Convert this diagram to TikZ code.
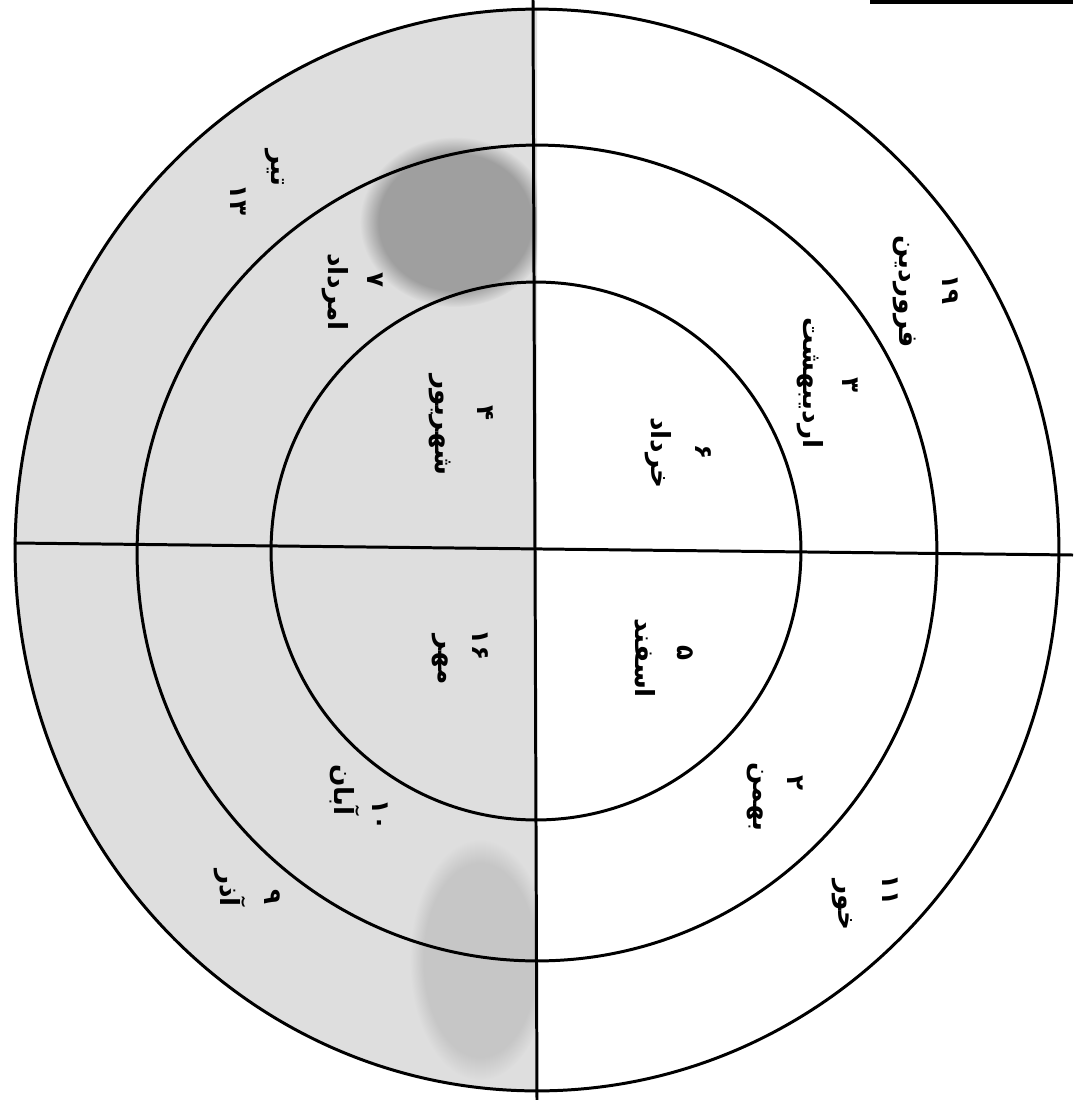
\documentclass[tikz,border=0pt]{standalone}
\usepackage{fontspec}
\newfontfamily\arabicfont[Script=Arabic]{DejaVu Sans}
\TeXXeTstate=1
\usetikzlibrary{fadings}

\begin{document}
\begin{tikzpicture}[x=0.02cm,y=-0.02cm,
  ring/.style={line width=1.7pt},
  word/.style={rotate=-90,inner sep=0pt,font=\arabicfont\bfseries\fontsize{15}{17}\selectfont},
  num/.style={rotate=-90,inner sep=0pt,font=\arabicfont\bfseries\fontsize{14}{16}\selectfont}]
\useasboundingbox (0,0) rectangle (1073,1100);
\coordinate (centre) at (537,550);

% shaded half
\begin{scope}
\clip (0,0) rectangle (537,1100);
\fill[gray!26] (centre) ellipse (10.44cm and 10.82cm);
\fill[gray!75,path fading=circle with fuzzy edge 20 percent] (455,222) ellipse (1.9cm and 1.7cm);
\fill[gray!45,path fading=circle with fuzzy edge 20 percent] (480,960) ellipse (1.4cm and 2.4cm);
\end{scope}

% rings
\draw[ring] (centre) ellipse (10.44cm and 10.82cm);
\draw[ring] (537,553) ellipse (8cm and 8.16cm);
\draw[ring] (536,551) ellipse (5.3cm and 5.38cm);

% cross
\coordinate (top) at (533,0);
\coordinate (bottom) at (537,1100);
\coordinate (west) at (14,543);
\coordinate (east) at (1073,555);
\draw[ring] (top) -- (bottom);
\draw[ring] (west) -- (east);
\draw[line width=2pt] (870,2) -- (1073,2);

% right half
\node[word] (farvardin) at (905,292) {\beginR فروردین\endR};
\node[num] (farvardinnum) at (950,290) {۱۹};
\node[word] (ordibehesht) at (810,383) {\beginR اردیبهشت\endR};
\node[num] (ordibeheshtnum) at (850,385) {۳};
\node[word] (khordad) at (658,453) {\beginR خرداد\endR};
\node[num] (khordadnum) at (703,452) {۶};
\node[word] (esfand) at (645,658) {\beginR اسفند\endR};
\node[num] (esfandnum) at (685,653) {۵};
\node[word] (bahman) at (755,797) {\beginR بهمن\endR};
\node[num] (bahmannum) at (795,783) {۲};
\node[word] (khur) at (842,905) {\beginR خور\endR};
\node[num] (khurnum) at (890,890) {۱۱};

% left half
\node[word] (tir) at (275,168) {\beginR تیر\endR};
\node[num] (tirnum) at (238,200) {۱۳};
\node[word] (amordad) at (335,292) {\beginR امرداد\endR};
\node[num] (amordadnum) at (375,280) {۷};
\node[word] (shahrivar) at (440,425) {\beginR شهریور\endR};
\node[num] (shahrivarnum) at (485,413) {۴};
\node[word] (mehr) at (440,660) {\beginR مهر\endR};
\node[num] (mehrnum) at (480,645) {۱۶};
\node[word] (aban) at (345,790) {\beginR آبان\endR};
\node[num] (abannum) at (380,815) {۱۰};
\node[word] (azar) at (230,888) {\beginR آذر\endR};
\node[num] (azarnum) at (272,897) {۹};
\end{tikzpicture}
\end{document}
